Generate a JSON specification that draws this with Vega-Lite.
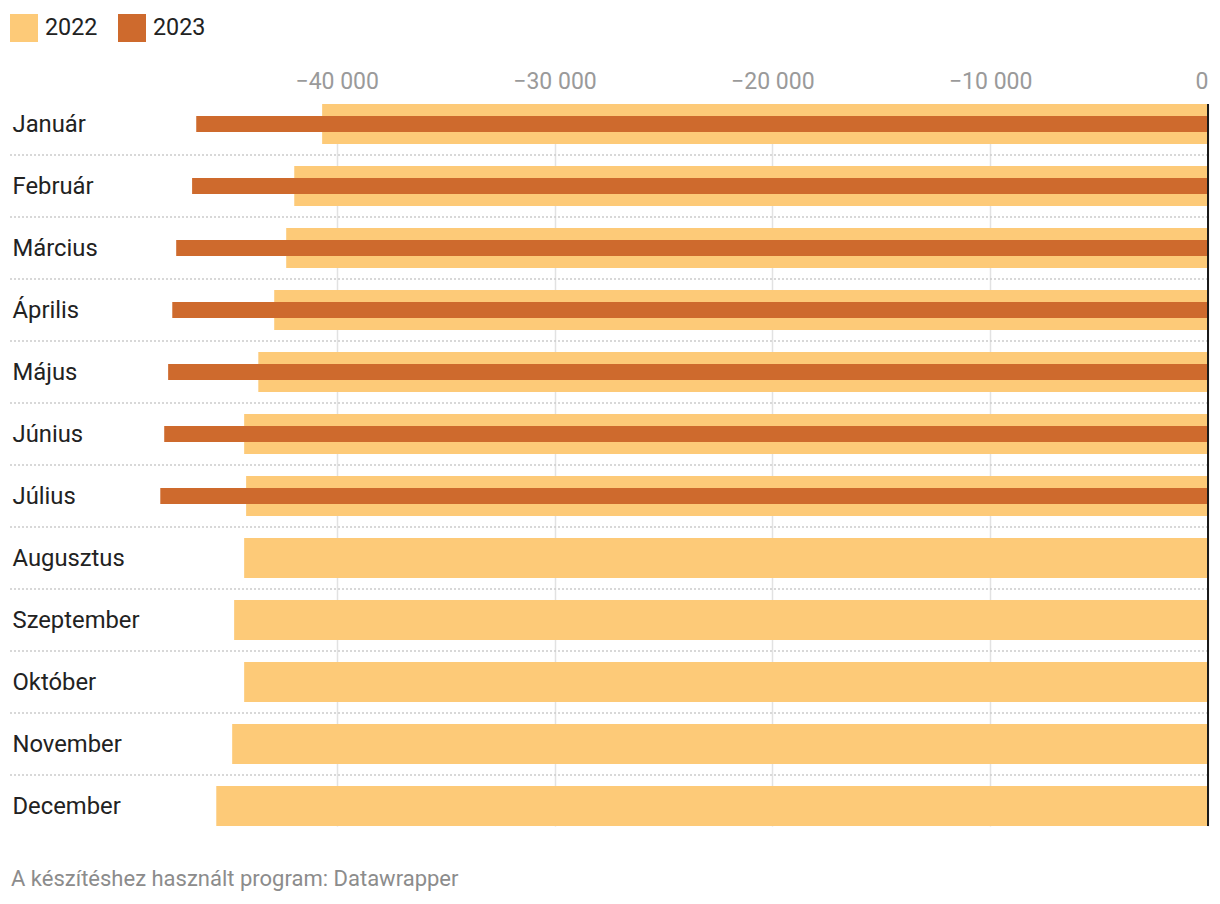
{
  "$schema": "https://vega.github.io/schema/vega-lite/v6.json",
  "width": 1198,
  "height": 722,
  "autosize": "none",
  "padding": {"left": 10, "top": 104, "right": 12, "bottom": 78},
  "background": "white",
  "config": {"font": "Roboto", "view": {"stroke": null}},
  "title": {
    "text": "A készítéshez használt program: Datawrapper",
    "orient": "bottom",
    "anchor": "start",
    "frame": "group",
    "fontSize": 22,
    "fontWeight": "normal",
    "color": "#8c8c8c",
    "offset": 42,
    "dx": 1
  },
  "data": {
    "values": [
      {"month": "Január", "year": "2022", "value": -40670},
      {"month": "Február", "year": "2022", "value": -41950},
      {"month": "Március", "year": "2022", "value": -42320},
      {"month": "Április", "year": "2022", "value": -42870},
      {"month": "Május", "year": "2022", "value": -43600},
      {"month": "Június", "year": "2022", "value": -44250},
      {"month": "Július", "year": "2022", "value": -44160},
      {"month": "Augusztus", "year": "2022", "value": -44250},
      {"month": "Szeptember", "year": "2022", "value": -44710},
      {"month": "Október", "year": "2022", "value": -44250},
      {"month": "November", "year": "2022", "value": -44800},
      {"month": "December", "year": "2022", "value": -45530},
      {"month": "Január", "year": "2023", "value": -46450},
      {"month": "Február", "year": "2023", "value": -46640},
      {"month": "Március", "year": "2023", "value": -47370},
      {"month": "Április", "year": "2023", "value": -47550},
      {"month": "Május", "year": "2023", "value": -47740},
      {"month": "Június", "year": "2023", "value": -47920},
      {"month": "Július", "year": "2023", "value": -48100}
    ]
  },
  "layer": [
    {
      "transform": [{"filter": "datum.year == '2022' && datum.month != 'December'"}],
      "mark": {"type": "rule", "strokeDash": [2, 2], "strokeWidth": 1.5, "color": "#cccccc"},
      "encoding": {
        "y": {
          "field": "month",
          "type": "nominal",
          "bandPosition": 1.275,
          "sort": ["Január", "Február", "Március", "Április", "Május", "Június", "Július", "Augusztus", "Szeptember", "Október", "November", "December"]
        }
      }
    },
    {
      "transform": [{"filter": "datum.year == '2022'"}],
      "mark": {"type": "bar"},
      "encoding": {
        "x": {
          "field": "value",
          "type": "quantitative",
          "title": null,
          "scale": {"domain": [-55000, 0], "nice": false, "zero": false},
          "axis": {
            "orient": "top",
            "values": [-40000, -30000, -20000, -10000, 0],
            "format": ",d",
            "labelExpr": "replace(datum.label, ',', ' ')",
            "grid": true,
            "gridColor": "#e2e2e2",
            "gridWidth": 1.5,
            "domain": false,
            "ticks": false,
            "tickSize": 0,
            "labelPadding": 16,
            "labelBaseline": "alphabetic",
            "labelFontSize": 23,
            "labelColor": "#9a9a9a",
            "labelFlush": true
          }
        },
        "y": {
          "field": "month",
          "type": "nominal",
          "title": null,
          "sort": ["Január", "Február", "Március", "Április", "Május", "Június", "Július", "Augusztus", "Szeptember", "Október", "November", "December"],
          "scale": {"paddingInner": 0.3548, "paddingOuter": 0},
          "axis": {
            "domain": false,
            "ticks": false,
            "tickSize": 0,
            "grid": false,
            "labelAlign": "left",
            "labelPadding": -2,
            "labelOffset": 1,
            "labelFontSize": 23.8,
            "labelColor": "#222222"
          }
        },
        "color": {
          "field": "year",
          "type": "nominal",
          "scale": {"domain": ["2022", "2023"], "range": ["#fdca78", "#ce6a2d"]},
          "legend": {
            "orient": "none",
            "legendX": 0,
            "legendY": -90,
            "direction": "horizontal",
            "title": null,
            "symbolType": "square",
            "symbolSize": 784,
            "symbolStrokeWidth": 0,
            "symbolOpacity": 1,
            "labelFontSize": 23.3,
            "labelColor": "#222222",
            "labelOffset": 7,
            "columnPadding": 20
          }
        }
      }
    },
    {
      "transform": [{"filter": "datum.year == '2023'"}],
      "mark": {"type": "bar", "size": 16},
      "encoding": {
        "x": {"field": "value", "type": "quantitative", "title": null},
        "y": {
          "field": "month",
          "type": "nominal",
          "title": null,
          "sort": ["Január", "Február", "Március", "Április", "Május", "Június", "Július", "Augusztus", "Szeptember", "Október", "November", "December"]
        },
        "color": {"field": "year", "type": "nominal"}
      }
    },
    {
      "mark": {"type": "rule", "color": "#1a1a1a", "strokeWidth": 2},
      "encoding": {
        "x": {"datum": 0, "type": "quantitative"}
      }
    }
  ]
}
